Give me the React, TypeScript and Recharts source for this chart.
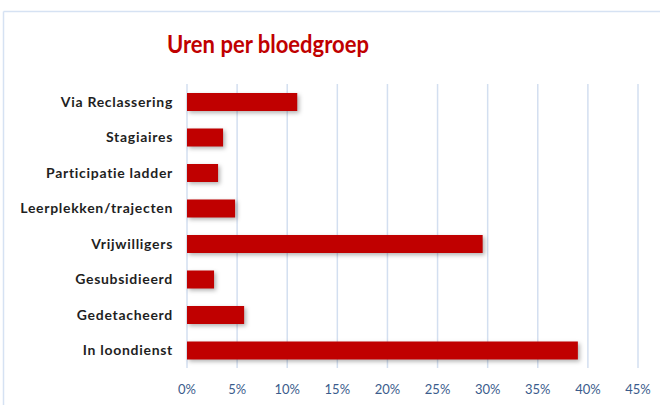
import { BarChart, Bar, XAxis, YAxis, CartesianGrid } from "recharts";

const categories = [
  "Via Reclassering",
  "Stagiaires",
  "Participatie ladder",
  "Leerplekken/trajecten",
  "Vrijwilligers",
  "Gesubsidieerd",
  "Gedetacheerd",
  "In loondienst",
];
const shares = [0.11, 0.036, 0.031, 0.048, 0.295, 0.027, 0.057, 0.39];
const xTicks = [0, 0.05, 0.1, 0.15, 0.2, 0.25, 0.3, 0.35, 0.4, 0.45];

const data = categories.map((name, i) => ({ name, value: shares[i] }));

const font = "Lato, 'Open Sans', sans-serif";

function ShadowBar(props: any) {
  const { x, y, width, height, fill } = props;
  return (
    <rect
      x={x}
      y={y}
      width={width}
      height={height}
      fill={fill}
      style={{ filter: "drop-shadow(2px 2px 2px rgba(0,0,0,0.3))" }}
    />
  );
}

export default function App() {
  return (
    <div style={{ position: "absolute", left: 0, top: 0, width: 660, height: 405, background: "#fff" }}>
      <svg width={660} height={405} style={{ position: "absolute", left: 0, top: 0 }}>
        <line x1={3.5} y1={11.5} x2={660} y2={11.5} stroke="#d6e2f3" strokeWidth={1.5} />
        <line x1={3.5} y1={11.5} x2={3.5} y2={405} stroke="#d6e2f3" strokeWidth={1.5} />
        <text
          x={268}
          y={53}
          textAnchor="middle"
          fill="#c00000"
          fontFamily={font}
          fontWeight={700}
          fontSize={25}
          textLength={202}
          lengthAdjust="spacingAndGlyphs"
        >
          Uren per bloedgroep
        </text>
      </svg>
      <div style={{ position: "absolute", left: 0, top: 0 }}>
        <BarChart
          width={660}
          height={405}
          data={data}
          layout="vertical"
          margin={{ top: 84, right: 22, bottom: 0, left: 0 }}
        >
          <CartesianGrid horizontal={false} stroke="#d3dff0" strokeWidth={1.5} />
          <XAxis
            type="number"
            domain={[0, 0.45]}
            ticks={xTicks}
            tickFormatter={(v: number) => `${Math.round(v * 100)}%`}
            axisLine={false}
            tickLine={false}
            height={37}
            tickMargin={11}
            interval={0}
            tick={{ fontSize: 13, fill: "#3b5c8c", fontFamily: font }}
          />
          <YAxis
            type="category"
            dataKey="name"
            width={187}
            axisLine={false}
            tickLine={false}
            tickMargin={8}
            interval={0}
            tick={{ fontSize: 14, fill: "#1f1f1f", fontFamily: font, fontWeight: 700, letterSpacing: 0.7 }}
          />
          <Bar dataKey="value" fill="#c00000" barSize={18} shape={ShadowBar} isAnimationActive={false} />
        </BarChart>
      </div>
    </div>
  );
}
